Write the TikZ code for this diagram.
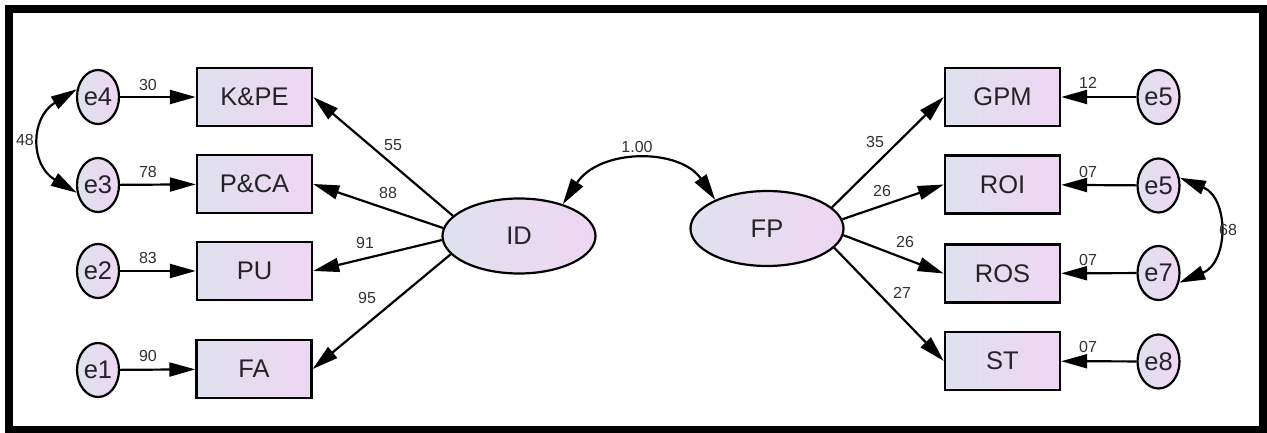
\documentclass[tikz,border=0pt]{standalone}
\usepackage{fontspec}
\setmainfont{Liberation Sans}
\usetikzlibrary{arrows.meta,shapes.geometric}
\definecolor{fillL}{RGB}{223,225,238}
\definecolor{fillR}{RGB}{239,214,243}
\definecolor{txt}{RGB}{35,35,40}
\definecolor{lbltxt}{RGB}{50,50,50}
\tikzset{
  obsbox/.style={draw=black, line width=2.4pt, rectangle, minimum width=115pt, minimum height=58pt,
    inner sep=0pt, left color=fillL, right color=fillR, text=txt, font=\fontsize{25.5}{25.5}\selectfont},
  errnode/.style={draw=black, line width=2.2pt, ellipse, minimum width=42pt, minimum height=54pt,
    inner sep=0pt, left color=fillL, right color=fillR, text=txt, font=\fontsize{25.5}{25.5}\selectfont},
  latent/.style={draw=black, line width=2.2pt, ellipse, minimum width=153pt, minimum height=75pt,
    inner sep=0pt, left color=fillL, right color=fillR, text=txt, font=\fontsize{25.5}{25.5}\selectfont},
  conn/.style={draw=black, line width=2.2pt, -{Triangle[length=26pt,width=14pt]}},
  dconn/.style={draw=black, line width=2.2pt, {Triangle[length=26pt,width=14pt]}-{Triangle[length=26pt,width=14pt]}},
  lbl/.style={text=lbltxt, font=\fontsize{16}{16}\selectfont, inner sep=0pt}
}
\begin{document}
\begin{tikzpicture}[x=1pt,y=-1pt]
\useasboundingbox (0,0) rectangle (1267,433);
\fill[white] (0,0) rectangle (1267,433);
\draw[line width=8pt] (8.5,9) rectangle (1263,429.5);

% left side
\node[errnode] (e4) at (98,97) {e4};
\node[errnode] (e3) at (98,185) {e3};
\node[errnode] (e2) at (98,271) {e2};
\node[errnode] (e1) at (98,370) {e1};
\node[obsbox] (kpe) at (254.5,97) {K\&PE};
\node[obsbox] (pca) at (254.5,184) {P\&CA};
\node[obsbox] (pu) at (254.5,271) {PU};
\node[obsbox] (fa) at (254,369) {FA};

\node[latent] (ID) at (519,236) {ID};
\node[latent] (FP) at (767,228.5) {FP};

% right side
\node[obsbox] (gpm) at (1002.5,97) {GPM};
\node[obsbox] (roi) at (1002.5,184.5) {ROI};
\node[obsbox] (ros) at (1002.5,273.5) {ROS};
\node[obsbox] (st) at (1002.5,361) {ST};
\node[errnode] (e5a) at (1158.5,97) {e5};
\node[errnode] (e5b) at (1158.5,185.5) {e5};
\node[errnode] (e7) at (1158.5,273) {e7};
\node[errnode] (e8) at (1158.5,361.5) {e8};

% error arrows left
\draw[conn] (e4) -- (kpe);
\draw[conn] (e3) -- (pca);
\draw[conn] (e2) -- (pu);
\draw[conn] (e1) -- (fa);
% error arrows right
\draw[conn] (e5a) -- (gpm);
\draw[conn] (e5b) -- (roi);
\draw[conn] (e7) -- (ros);
\draw[conn] (e8) -- (st);

% loadings
\draw[conn] (ID.163) -- (kpe.east);
\draw[conn] (ID.174) -- (pca.east);
\draw[conn] (ID.183) -- (pu.east);
\draw[conn] (ID.195) -- (fa.east);
\draw[conn] (FP.18) -- (gpm.west);
\draw[conn] (FP.7) -- (roi.west);
\draw[conn] (FP.355) -- (ros.west);
\draw[conn] (FP.344) -- (st.west);

% covariances
\draw[dconn] (e4.160) .. controls (30,118) and (30,165) .. (e3.200);
\draw[dconn] (ID.36) .. controls (600,148) and (680,148) .. (FP.151);
\draw[dconn] (e5b.20) .. controls (1229,198) and (1229,262) .. (e7.335);

% labels
\node[lbl] (l30) at (148,85) {30};
\node[lbl] (l78) at (148,172) {78};
\node[lbl] (l83) at (148,258) {83};
\node[lbl] (l90) at (148,356) {90};
\node[lbl] (l48) at (25,140) {48};
\node[lbl] (l55) at (393,145) {55};
\node[lbl] (l88) at (388,193) {88};
\node[lbl] (l91) at (365,243) {91};
\node[lbl] (l95) at (367,298) {95};
\node[lbl] (l100) at (637,147) {1.00};
\node[lbl] (l35) at (875,142) {35};
\node[lbl] (l26a) at (882,191) {26};
\node[lbl] (l26b) at (905,242) {26};
\node[lbl] (l27) at (902,293) {27};
\node[lbl] (l12) at (1088,83) {12};
\node[lbl] (l07a) at (1088,172) {07};
\node[lbl] (l07b) at (1088,260) {07};
\node[lbl] (l07c) at (1088,347) {07};
\node[lbl] (l68) at (1228,230) {68};
\end{tikzpicture}
\end{document}
